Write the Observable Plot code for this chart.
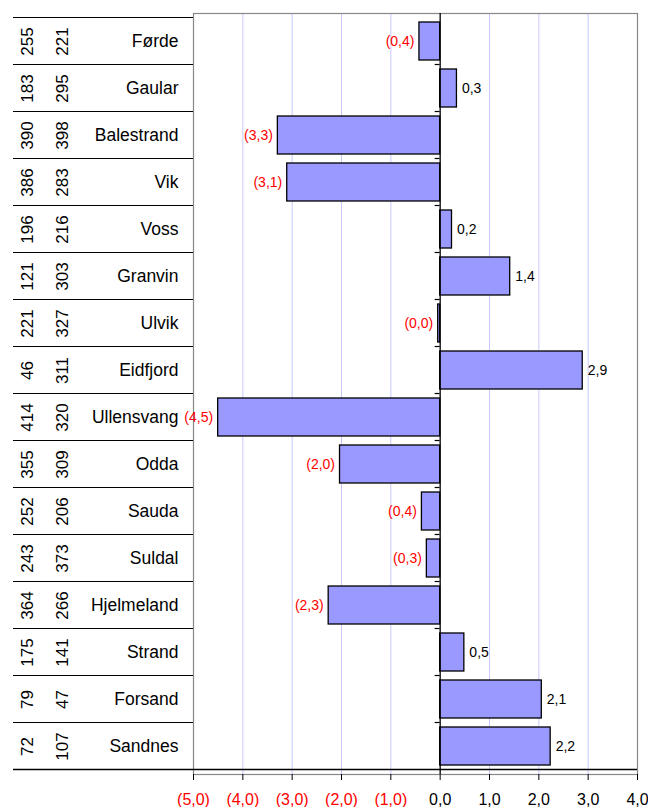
<!DOCTYPE html>
<html><head><meta charset="utf-8">
<script src="https://cdn.jsdelivr.net/npm/d3@7"></script>
<script src="https://cdn.jsdelivr.net/npm/@observablehq/plot@0.6"></script>
<style>body{margin:0;background:#fff} svg{display:block}</style>
</head><body><div id="chart"></div>
<script>
const names = ["Førde","Gaular","Balestrand","Vik","Voss","Granvin","Ulvik","Eidfjord","Ullensvang","Odda","Sauda","Suldal","Hjelmeland","Strand","Forsand","Sandnes"];
const colA = [255,183,390,386,196,121,221,46,414,355,252,243,364,175,79,72];
const colB = [221,295,398,283,216,303,327,311,320,309,206,373,266,141,47,107];
const values = [-0.42,0.34,-3.29,-3.10,0.24,1.42,-0.04,2.89,-4.50,-2.03,-0.37,-0.27,-2.26,0.49,2.06,2.24];
const xTicks = [-5,-4,-3,-2,-1,0,1,2,3,4];
const gridTicks = [-4,-3,-2,-1,1,2,3];

const data = names.map((n,i)=>({name:n, a:colA[i], b:colB[i], v:values[i]}));
const fmt = v => Math.abs(v).toFixed(1).replace(".", ",");
const neg = data.filter(d=>d.v<0), pos = data.filter(d=>d.v>=0);
const font = "Liberation Sans, Arial, sans-serif";
const axisOpts = {tickSize: 6, tickPadding: 13, fontSize: 16, stroke: "#000", strokeOpacity: 1, label: null};

const plot = Plot.plot({
  width: 648, height: 807,
  marginLeft: 193, marginRight: 11, marginTop: 13, marginBottom: 33,
  style: {fontFamily: font, background: "#fff"},
  x: {domain: [-5, 4], axis: null, label: null},
  y: {domain: names, axis: null, label: null, paddingInner: 0.2, paddingOuter: 0.1},
  marks: [
    Plot.ruleX(gridTicks, {stroke: "#c8c8ff", strokeWidth: 1}),
    Plot.frame({stroke: "#888", strokeWidth: 1.2}),
    Plot.barX(data, {y: "name", x: "v", fill: "#9999ff", stroke: "#000", strokeWidth: 1.3}),
    Plot.ruleX([0], {stroke: "#000", strokeWidth: 1.3}),
    Plot.axisX({...axisOpts, ticks: xTicks.filter(d=>d<0), tickFormat: d => `(${fmt(d)})`, fill: "#ff0000"}),
    Plot.axisX({...axisOpts, ticks: xTicks.filter(d=>d>=0), tickFormat: d => fmt(d), fill: "#000"}),
    Plot.text(neg, {y: "name", x: "v", text: d => `(${fmt(d.v)})`, textAnchor: "end", dx: -5, fill: "#ff0000", fontSize: 14}),
    Plot.text(pos, {y: "name", x: "v", text: d => fmt(d.v), textAnchor: "start", dx: 5, fill: "#000", fontSize: 14}),
    Plot.text(data, {y: "name", text: "name", frameAnchor: "left", textAnchor: "end", dx: -15, fontSize: 17.5, fill: "#000"}),
    Plot.text(data, {y: "name", text: d => String(d.a), frameAnchor: "left", textAnchor: "middle", rotate: -90, dx: -166, fontSize: 17, fill: "#000"}),
    Plot.text(data, {y: "name", text: d => String(d.b), frameAnchor: "left", textAnchor: "middle", rotate: -90, dx: -130.5, fontSize: 17, fill: "#000"})
  ]
});

// Table separators, zero-line row ticks and bottom axis line, placed with the plot's own scales
const sy = plot.scale("y"), sx = plot.scale("x");
const half = (sy.step - sy.bandwidth) / 2;
const bounds = names.map(n => sy.apply(n) - half).concat([sy.apply(names[names.length-1]) + sy.bandwidth + half]);
const x0 = sx.apply(0), xL = sx.apply(-5), xR = sx.apply(4);
const tableLeft = 13;
const g = d3.select(plot).append("g");
g.selectAll("line.sep").data(bounds).join("line")
  .attr("x1", tableLeft).attr("x2", xL).attr("y1", d=>d).attr("y2", d=>d)
  .attr("stroke", "#000").attr("stroke-width", 1.2);
g.selectAll("line.zt").data(bounds.slice(1, -1)).join("line")
  .attr("x1", x0 - 5).attr("x2", x0).attr("y1", d=>d).attr("y2", d=>d)
  .attr("stroke", "#000").attr("stroke-width", 1.2);
const yb = bounds[bounds.length-1];
g.append("line").attr("x1", tableLeft).attr("x2", xR).attr("y1", yb).attr("y2", yb).attr("stroke", "#000").attr("stroke-width", 1.3);
document.getElementById("chart").appendChild(plot);
</script>
</body></html>
